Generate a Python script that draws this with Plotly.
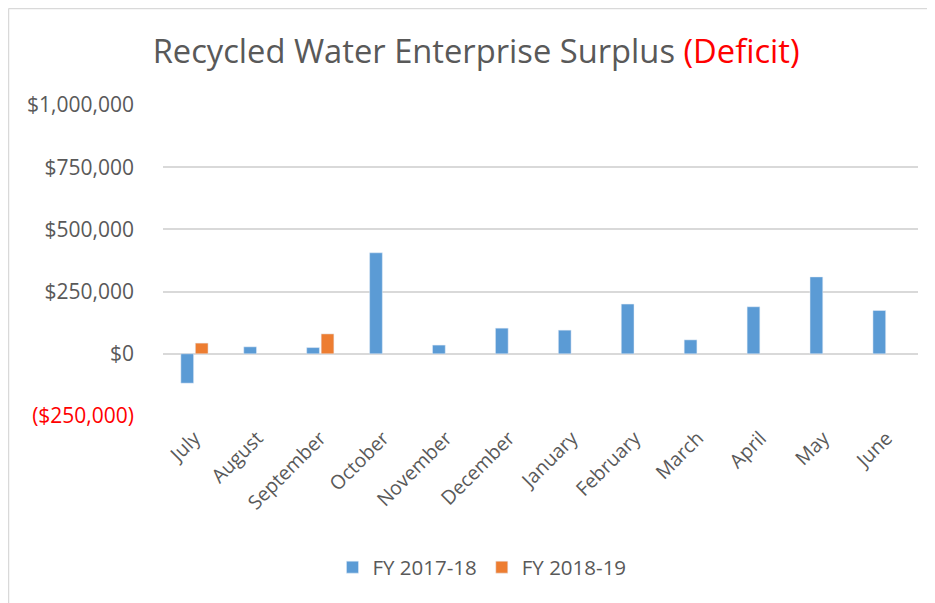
import plotly.graph_objects as go

# Monthly surplus / (deficit) by fiscal year
months = ['July', 'August', 'September', 'October', 'November', 'December',
          'January', 'February', 'March', 'April', 'May', 'June']
fy_2017_18 = [-118000, 28000, 25000, 406000, 35000, 103000,
              95000, 200000, 56000, 189000, 309000, 174000]
fy_2018_19 = [43000, None, 80000, None, None, None,
              None, None, None, None, None, None]

tick_vals = [-250000, 0, 250000, 500000, 750000, 1000000]
tick_text = ["<span style='color:#ff0000'>($250,000)</span>", '$0', '$250,000',
             '$500,000', '$750,000', '$1,000,000']

grey = '#595959'
font = 'Open Sans'

fig = go.Figure()
fig.add_trace(go.Bar(x=months, y=fy_2017_18, name='FY 2017-18', marker_color='#5b9bd5'))
fig.add_trace(go.Bar(x=months, y=fy_2018_19, name='FY 2018-19', marker_color='#ed7d31'))

# page has an 8px body margin, so the figure is a bit smaller than the window
W, H = 927, 595
L, R, T, B = 155, 17, 97, 187
pw, ph = W - L - R, H - T - B

fig.update_layout(
    width=W, height=H,
    margin=dict(l=L, r=R, t=T, b=B),
    plot_bgcolor='white', paper_bgcolor='white',
    barmode='group', bargap=0.54, bargroupgap=0.12,
    font=dict(family=font, color=grey, size=19),
    title=dict(
        text="Recycled Water Enterprise Surplus <span style='color:#ff0000'>(Deficit)</span>",
        xref='container', x=0.505, xanchor='center',
        yref='container', y=0.926, yanchor='middle',
        font=dict(size=32.7, color=grey, family=font)),
    legend=dict(orientation='h', x=0.4225, xanchor='center', y=0.06, yanchor='middle',
                yref='container', font=dict(size=20.5, color=grey),
                traceorder='normal'),
    showlegend=True,
)
fig.update_yaxes(range=[-250000, 1000000], tickvals=tick_vals, ticktext=tick_text,
                 showgrid=True, gridcolor='#d9d9d9', gridwidth=1.5,
                 zeroline=True, zerolinecolor='#d9d9d9', zerolinewidth=1.5,
                 showline=False, ticks='', ticklabelstandoff=28,
                 tickfont=dict(size=21, color=grey))
fig.update_xaxes(tickangle=-45, showline=False, ticks='', showgrid=False,
                 ticklabelstandoff=6, tickfont=dict(size=19.5, color=grey))

# outer chart frame: only the top and left edges show in the crop
x_left = (0.5 - L) / pw
y_top = (H - 0.5 - B) / ph
fig.add_shape(type='line', xref='paper', yref='paper',
              x0=x_left, x1=(W + 2 - L) / pw, y0=y_top, y1=y_top,
              line=dict(color='#d9d9d9', width=1.5), layer='below')
fig.add_shape(type='line', xref='paper', yref='paper',
              x0=x_left, x1=x_left, y0=(-2 - B) / ph, y1=y_top,
              line=dict(color='#d9d9d9', width=1.5), layer='below')

fig.write_html('out.html')
